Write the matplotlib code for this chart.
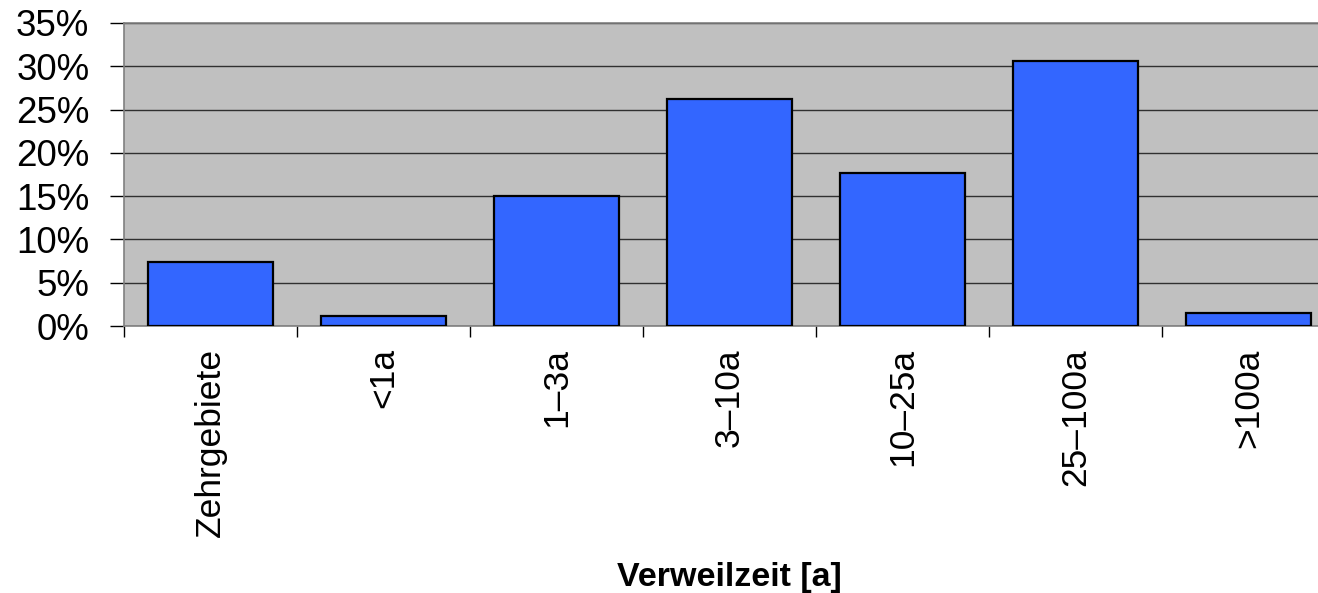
import numpy as np
import matplotlib
matplotlib.use("Agg")
import matplotlib.pyplot as plt
from matplotlib.ticker import FuncFormatter

categories = ["Zehrgebiete", "<1a", "1\u20133a", "3\u201310a", "10\u201325a", "25\u2013100a", ">100a"]
shares = [7.4, 1.2, 15.0, 26.2, 17.7, 30.6, 1.5]
yticks = [0, 5, 10, 15, 20, 25, 30, 35]

plt.rcParams['font.family'] = ['Liberation Sans', 'DejaVu Sans']

fig = plt.figure(figsize=(13.18, 5.93), dpi=100)
ax = fig.add_axes([124/1318, 1 - 326/593, (1335-124)/1318, (326-23)/593])
ax.set_facecolor('#C0C0C0')

x = np.arange(len(categories))
ax.bar(x, shares, width=0.72, color='#3366FF', edgecolor='black', linewidth=1.6, zorder=3)

ax.set_xlim(-0.5, len(categories) - 0.5)
ax.set_ylim(0, 35)
ax.set_yticks(yticks)
ax.yaxis.set_major_formatter(FuncFormatter(lambda v, p: f"{v:.0f}%"))
ax.grid(axis='y', color='#303030', linewidth=1.0, zorder=1)
ax.tick_params(axis='y', labelsize=26.5, length=10, width=1, color='black', pad=15)

ax.set_xticks(x)
ax.set_xticklabels(categories, rotation=90, fontsize=25.5)
ax.tick_params(axis='x', which='major', length=0, pad=16)
ax.set_xticks(np.arange(len(categories) + 1) - 0.5, minor=True)
ax.tick_params(axis='x', which='minor', length=8, width=1, color='black')

for s in ['left', 'bottom', 'top']:
    ax.spines[s].set_color('#808080')
    ax.spines[s].set_linewidth(1.2)
ax.spines['right'].set_visible(False)

ax.set_xlabel("Verweilzeit [a]", fontsize=24.5, fontweight='bold', labelpad=18)

fig.savefig("out.png", dpi=100)
